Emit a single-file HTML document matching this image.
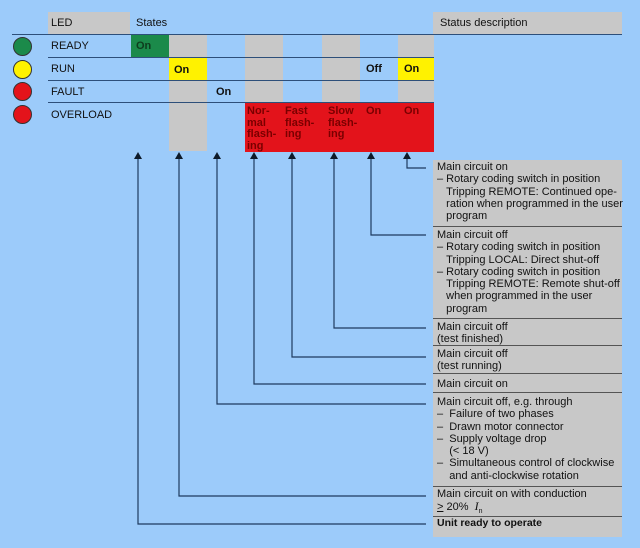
<!DOCTYPE html>
<html><head><meta charset="utf-8"><style>
body{margin:0;width:640px;height:548px;background:#9ccbfa;position:relative;overflow:hidden;font-family:"Liberation Sans",Arial,sans-serif;color:#111}
div{position:absolute;box-sizing:border-box}
.g{background:#c8c8c8}
.t{font-size:11px;line-height:12.3px;white-space:nowrap}
.b{font-weight:bold}
.hl{height:1px;background:#2d4f7a}
.c{width:19px;height:19px;border-radius:50%;border:1px solid #333}
.lab{font-size:11px;left:51px}
.st{font-size:11px;font-weight:bold;line-height:11.5px;white-space:nowrap}
.rd{color:#7a0000}
</style></head><body>
<div class="g" style="left:48px;top:12px;width:82px;height:22px"></div>
<div class="g" style="left:433px;top:12px;width:189px;height:22px"></div>
<div class="t" style="left:51px;top:17px">LED</div>
<div class="t" style="left:136px;top:17px">States</div>
<div class="t" style="left:440px;top:17px">Status description</div>
<div class="g" style="left:169px;top:34px;width:38px;height:117px"></div>
<div class="g" style="left:245px;top:34px;width:38px;height:117px"></div>
<div class="g" style="left:322px;top:34px;width:38px;height:117px"></div>
<div class="g" style="left:398px;top:34px;width:36px;height:117px"></div>
<div style="left:131px;top:34px;width:38px;height:23px;background:#1b8a4a"></div>
<div style="left:169px;top:57px;width:38px;height:23px;background:#fff200"></div>
<div style="left:398px;top:57px;width:36px;height:23px;background:#fff200"></div>
<div style="left:245px;top:102px;width:189px;height:50px;background:#e3131b"></div>
<div class="hl" style="left:12px;top:34px;width:610px"></div>
<div class="hl" style="left:48px;top:57px;width:386px"></div>
<div class="hl" style="left:48px;top:80px;width:386px"></div>
<div class="hl" style="left:48px;top:102px;width:386px"></div>
<div class="c" style="left:13px;top:37px;background:#1b8a4a"></div>
<div class="c" style="left:13px;top:60px;background:#fff200"></div>
<div class="c" style="left:13px;top:82px;background:#e3131b"></div>
<div class="c" style="left:13px;top:105px;background:#e3131b"></div>
<div class="lab t" style="top:40px">READY</div>
<div class="lab t" style="top:63px">RUN</div>
<div class="lab t" style="top:86px">FAULT</div>
<div class="lab t" style="top:109px">OVERLOAD</div>
<div class="st" style="left:136px;top:41px;color:#0d3d1d">On</div>
<div class="st" style="left:174px;top:65px">On</div>
<div class="st" style="left:404px;top:64px">On</div>
<div class="st" style="left:366px;top:64px">Off</div>
<div class="st" style="left:216px;top:87px">On</div>
<div class="st rd" style="left:247px;top:106px">Nor-<br>mal<br>flash-<br>ing</div>
<div class="st rd" style="left:285px;top:106px">Fast<br>flash-<br>ing</div>
<div class="st rd" style="left:328px;top:106px">Slow<br>flash-<br>ing</div>
<div class="st rd" style="left:366px;top:106px">On</div>
<div class="st rd" style="left:404px;top:106px">On</div>
<div class="g" style="left:433px;top:160px;width:189px;height:377px"></div>
<div class="hl" style="left:433px;top:226px;width:189px;background:#555"></div>
<div class="hl" style="left:433px;top:318px;width:189px;background:#555"></div>
<div class="hl" style="left:433px;top:345px;width:189px;background:#555"></div>
<div class="hl" style="left:433px;top:373px;width:189px;background:#555"></div>
<div class="hl" style="left:433px;top:392px;width:189px;background:#555"></div>
<div class="hl" style="left:433px;top:486px;width:189px;background:#555"></div>
<div class="hl" style="left:433px;top:516px;width:189px;background:#555"></div>
<div class="t" style="left:437px;top:161px">Main circuit on<br>– Rotary coding switch in position<br>&nbsp;&nbsp;&nbsp;Tripping REMOTE: Continued ope-<br>&nbsp;&nbsp;&nbsp;ration when programmed in the user<br>&nbsp;&nbsp;&nbsp;program</div>
<div class="t" style="left:437px;top:229px">Main circuit off<br>– Rotary coding switch in position<br>&nbsp;&nbsp;&nbsp;Tripping LOCAL: Direct shut-off<br>– Rotary coding switch in position<br>&nbsp;&nbsp;&nbsp;Tripping REMOTE: Remote shut-off<br>&nbsp;&nbsp;&nbsp;when programmed in the user<br>&nbsp;&nbsp;&nbsp;program</div>
<div class="t" style="left:437px;top:321px">Main circuit off<br>(test finished)</div>
<div class="t" style="left:437px;top:348px">Main circuit off<br>(test running)</div>
<div class="t" style="left:437px;top:378px">Main circuit on</div>
<div class="t" style="left:437px;top:396px">Main circuit off, e.g. through<br>– &nbsp;Failure of two phases<br>– &nbsp;Drawn motor connector<br>– &nbsp;Supply voltage drop<br>&nbsp;&nbsp;&nbsp;&nbsp;(&lt; 18 V)<br>– &nbsp;Simultaneous control of clockwise<br>&nbsp;&nbsp;&nbsp;&nbsp;and anti-clockwise rotation</div>
<div class="t" style="left:437px;top:488px">Main circuit on with conduction<br><u>&gt;</u> 20% &nbsp;<i style="font-family:'Liberation Serif',serif;font-size:12px">I</i><sub style="font-size:7px">n</sub></div>
<div class="t" style="left:437px;top:517px;font-weight:bold;font-size:10.5px">Unit ready to operate</div>
<svg width="640" height="548" style="position:absolute;left:0;top:0">
<g stroke="#1e3a5f" stroke-width="1.2" fill="none">
<polyline points="407,158 407,168 426,168"/>
<polyline points="371,158 371,235 426,235"/>
<polyline points="334,158 334,328 426,328"/>
<polyline points="292,158 292,357 426,357"/>
<polyline points="254,158 254,384 426,384"/>
<polyline points="217,158 217,404 426,404"/>
<polyline points="179,158 179,496 426,496"/>
<polyline points="138,158 138,524 426,524"/>
</g>
<g fill="#0d1a2a">
<polygon points="407,152 403,159 411,159"/>
<polygon points="371,152 367,159 375,159"/>
<polygon points="334,152 330,159 338,159"/>
<polygon points="292,152 288,159 296,159"/>
<polygon points="254,152 250,159 258,159"/>
<polygon points="217,152 213,159 221,159"/>
<polygon points="179,152 175,159 183,159"/>
<polygon points="138,152 134,159 142,159"/>
</g>
</svg>
</body></html>
